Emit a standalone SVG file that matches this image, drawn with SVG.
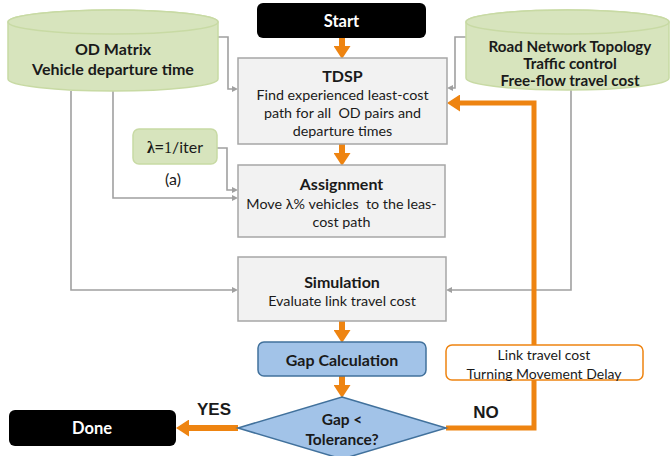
<svg xmlns="http://www.w3.org/2000/svg" width="670" height="456" viewBox="0 0 670 456">
<defs>
<marker id="oa" viewBox="0 0 13 17" refX="0" refY="8.5" markerWidth="13" markerHeight="17" markerUnits="userSpaceOnUse" orient="auto"><path d="M0,0 L13,8.5 L0,17 z" fill="#ee8411"/></marker>
<marker id="ga" viewBox="0 0 6 6" refX="0" refY="3" markerWidth="6" markerHeight="6" markerUnits="userSpaceOnUse" orient="auto"><path d="M0,0 L6,3 L0,6 z" fill="#a0a0a0"/></marker>
</defs>
<style>
text{font-family:Lato,"Liberation Sans",sans-serif;fill:#1a1a1a;text-anchor:middle}
.b{font-weight:bold}
.w{fill:#ffffff;font-weight:bold;font-size:16.5px}
.t{font-size:14.3px}
.h{font-size:16px;font-weight:bold}
.cyl{fill:#d7e4bd;stroke:#c8daa4;stroke-width:1.5}
.box{fill:#f2f2f2;stroke:#a6a6a6;stroke-width:1.5}
.blk{fill:#000000}
.blue{fill:#a2c3e8;stroke:#41719c;stroke-width:1.5}
.g{fill:none;stroke:#a0a0a0;stroke-width:1.6;marker-end:url(#ga)}
.o{fill:none;stroke:#ee8411;stroke-width:6;marker-end:url(#oa)}
.on{fill:none;stroke:#ee8411;stroke-width:5;marker-end:url(#oa)}
.yn{font-family:"Liberation Sans",Arial,sans-serif;font-weight:bold;font-size:17px}
</style>
<g id="connectors">
<path class="g" d="M218,37 H228 V89 H232"/>
<path class="g" d="M466,37 H455 V88 H453"/>
<path class="g" d="M113,91 V198 H232"/>
<path class="g" d="M71,91 V290 H232"/>
<path class="g" d="M217,148 H227 V190 H232"/>
<path class="g" d="M571,90 V290 H452"/>
<path class="o" d="M342,38 V46"/>
<path class="o" d="M342,144 V153"/>
<path class="o" d="M342,321 V330"/>
<path class="o" d="M342,376 V385"/>
<path class="o" d="M238,428 H189"/>
<path class="on" d="M446,428 H534 V103 H460"/>
</g>
<g id="od">
<path class="cyl" d="M8,22 A105,12 0 0 1 218,22 V79 A105,12 0 0 1 8,79 Z"/>
<ellipse class="cyl" cx="113" cy="22" rx="105" ry="12"/>
<text class="b" font-size="16" x="113" y="55">OD Matrix</text>
<text class="b" font-size="16" x="113" y="75">Vehicle departure time</text>
</g>
<g id="road">
<path class="cyl" d="M466,22 A101.5,12 0 0 1 669,22 V78 A101.5,12 0 0 1 466,78 Z"/>
<ellipse class="cyl" cx="567.5" cy="22" rx="101.5" ry="12"/>
<text class="b" font-size="15.2" x="570" y="52">Road Network Topology</text>
<text class="b" font-size="15.2" x="570" y="69">Traffic control</text>
<text class="b" font-size="15.2" x="570" y="86">Free-flow travel cost</text>
</g>
<g id="start">
<rect class="blk" x="257" y="3" width="169" height="35" rx="6"/>
<text class="w" x="341.5" y="27">Start</text>
</g>
<g id="tdsp">
<rect class="box" x="238" y="58" width="209" height="86"/>
<text class="h" x="342.5" y="82">TDSP</text>
<text class="t" x="342.5" y="100">Find experienced least-cost</text>
<text class="t" x="342.5" y="117.5" xml:space="preserve">path for all  OD pairs and</text>
<text class="t" x="342.5" y="136">departure times</text>
</g>
<g id="lambda">
<rect x="133" y="129" width="84" height="35" rx="6" fill="#d7e4bd" stroke="#c8daa4" stroke-width="1.5"/>
<text x="175" y="153" font-size="16"><tspan font-family="Liberation Serif,serif" font-weight="bold">λ=</tspan><tspan font-family="Liberation Serif,serif">1</tspan><tspan>/iter</tspan></text>
<text x="173" y="185" font-size="16" font-family="Liberation Sans,sans-serif">(a)</text>
</g>
<g id="assignment">
<rect class="box" x="238" y="165" width="207" height="72"/>
<text class="h" x="341.5" y="190">Assignment</text>
<text class="t" x="341.5" y="208.5" xml:space="preserve">Move λ% vehicles  to the leas-</text>
<text class="t" x="341.5" y="226.5">cost path</text>
</g>
<g id="simulation">
<rect class="box" x="238" y="257" width="208" height="64"/>
<text class="h" x="342" y="288">Simulation</text>
<text class="t" x="342" y="306">Evaluate link travel cost</text>
</g>
<g id="gap">
<rect class="blue" x="258" y="342" width="168" height="34" rx="6"/>
<text class="b" font-size="16" x="342" y="366">Gap Calculation</text>
</g>
<g id="decision">
<path class="blue" d="M342,397 L446,428 L342,459 L238,428 Z"/>
<text class="b" font-size="15.5" x="342" y="425">Gap &lt;</text>
<text class="b" font-size="15.5" x="342" y="445">Tolerance?</text>
</g>
<g id="done">
<rect class="blk" x="9" y="410" width="167" height="36" rx="6"/>
<text class="w" x="92" y="434">Done</text>
</g>
<g id="labels">
<text class="yn" x="214" y="415">YES</text>
<text class="yn" x="486" y="418">NO</text>
</g>
<g id="feedback">
<rect x="446" y="345" width="197" height="35" rx="6" fill="#ffffff" stroke="#ee8411" stroke-width="1.5"/>
<text font-size="14" x="544" y="360">Link travel cost</text>
<text font-size="14" x="544" y="379">Turning Movement Delay</text>
</g>
</svg>
